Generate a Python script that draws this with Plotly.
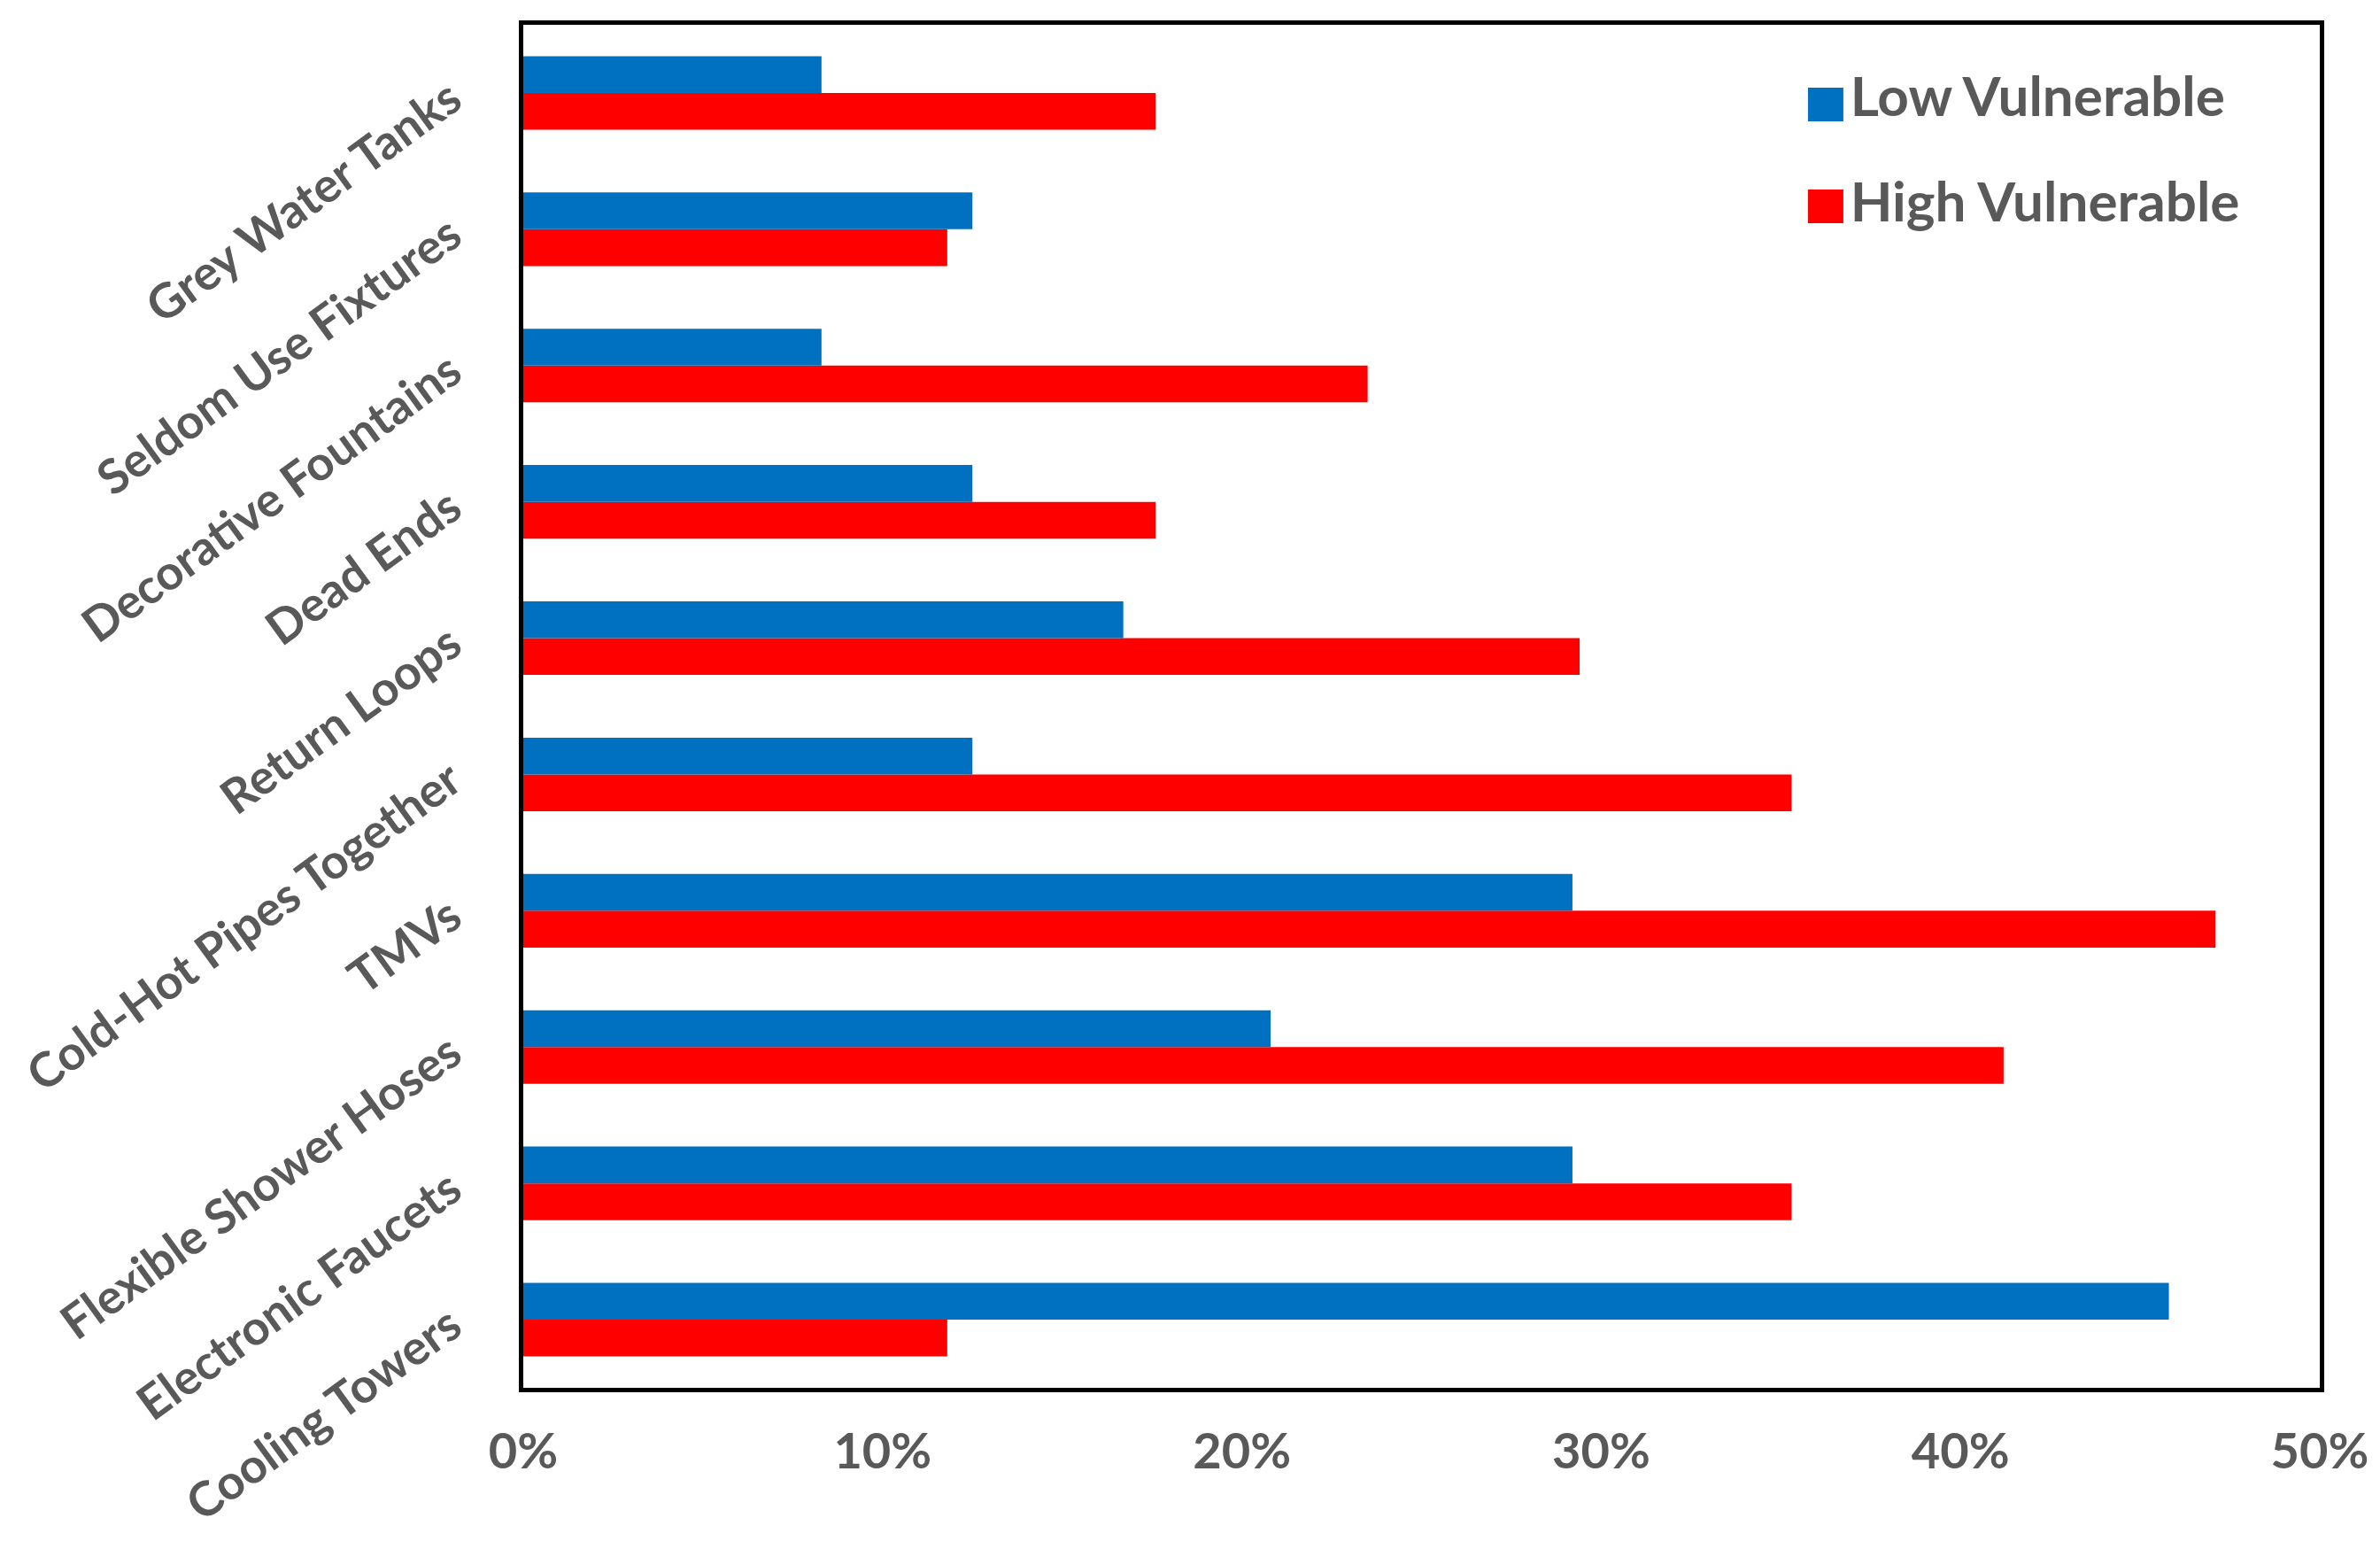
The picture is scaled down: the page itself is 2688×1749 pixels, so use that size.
import plotly.graph_objects as go

categories = ["Cooling Towers", "Electronic Faucets", "Flexible Shower Hoses", "TMVs",
              "Cold-Hot Pipes Together", "Return Loops", "Dead Ends",
              "Decorative Fountains", "Seldom Use Fixtures", "Grey Water Tanks"]
low_vulnerable = [0.458, 0.292, 0.208, 0.292, 0.125, 0.167, 0.125, 0.083, 0.125, 0.083]
high_vulnerable = [0.118, 0.353, 0.412, 0.471, 0.353, 0.294, 0.176, 0.235, 0.118, 0.176]
x_ticks = [0, 0.1, 0.2, 0.3, 0.4, 0.5]
x_ticklabels = ["0%", "10%", "20%", "30%", "40%", "50%"]

FONT = "Lato"
GRAY = "#595959"
BLUE = "#0070C0"
RED = "#FF0000"

fig = go.Figure()
fig.add_trace(go.Bar(y=categories, x=high_vulnerable, orientation="h",
                     name="High Vulnerable", marker=dict(color=RED, line=dict(width=0)),
                     legendrank=2, legendgroup="h"))
fig.add_trace(go.Bar(y=categories, x=low_vulnerable, orientation="h",
                     name="Low Vulnerable", marker=dict(color=BLUE, line=dict(width=0)),
                     legendrank=1, legendgroup="l"))

# larger legend swatches (behind the legend's own small icons)
fig.add_shape(type="rect", xref="paper", yref="paper", x0=0.7151, x1=0.7348,
              y0=0.9292, y1=0.9539, fillcolor=BLUE, line=dict(width=0), layer="above")
fig.add_shape(type="rect", xref="paper", yref="paper", x0=0.7151, x1=0.7348,
              y0=0.8545, y1=0.8791, fillcolor=RED, line=dict(width=0), layer="above")

fig.update_layout(
    width=2688, height=1749,
    margin=dict(l=583, r=76, t=20, b=190, autoexpand=False),
    paper_bgcolor="white", plot_bgcolor="white",
    barmode="group", bargap=0.46, bargroupgap=0,
    font=dict(family=FONT, size=56, color=GRAY),
    legend=dict(x=0.714, y=0.9795, xanchor="left", yanchor="top",
                bgcolor="rgba(0,0,0,0)", font=dict(family=FONT, size=62, color=GRAY, weight="bold"),
                traceorder="grouped", tracegroupgap=36, itemwidth=40),
)
fig.update_xaxes(range=[0, 0.5], tickvals=x_ticks, ticktext=x_ticklabels,
                 showgrid=False, zeroline=False, showline=True, linecolor="black",
                 linewidth=5, mirror=True, ticks="", ticklabelstandoff=19,
                 tickfont=dict(family=FONT, size=56, color=GRAY, weight="bold"))
fig.update_yaxes(categoryorder="array", categoryarray=categories,
                 showgrid=False, zeroline=False, showline=True, linecolor="black",
                 linewidth=5, mirror=True, ticks="", tickangle=-36, ticklabelstandoff=66,
                 tickfont=dict(family=FONT, size=54, color=GRAY, weight="bold"))

fig.write_html("out.html")
